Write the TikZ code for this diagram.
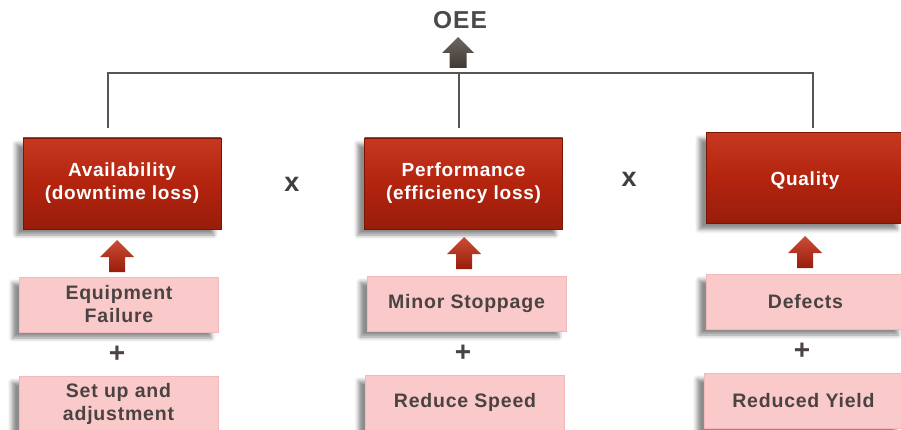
\documentclass[tikz,border=0pt]{standalone}
\usepackage{fontspec}
\setmainfont{Liberation Sans}[LetterSpace=4]
\usetikzlibrary{shadows.blur}

\definecolor{boxred}{HTML}{B3240F}
\definecolor{boxredtop}{HTML}{C63820}
\definecolor{boxredbot}{HTML}{981D0A}
\definecolor{boxedge}{HTML}{7A1505}
\definecolor{lossfill}{HTML}{FACACB}
\definecolor{lossedge}{HTML}{F3B8B9}
\definecolor{losstext}{HTML}{4B4242}
\definecolor{linegray}{HTML}{555555}
\definecolor{oeegray}{HTML}{4A4A4A}
\definecolor{arrowdark}{HTML}{3F3834}
\definecolor{arrowlight}{HTML}{6E6660}

\tikzset{
  x=1pt, y=-1pt,
  boxshadow/.style={blur shadow={shadow xshift=-7pt, shadow yshift=-6pt,
      shadow blur radius=4pt, shadow opacity=45}},
  factorbox/.style={boxshadow, draw=boxedge, line width=0.6pt,
      top color=boxredtop, bottom color=boxredbot, middle color=boxred,
      minimum width=198pt, minimum height=91pt, inner sep=0pt,
      text=white, align=center, font=\bfseries\fontsize{19}{23}\selectfont},
  lossbox/.style={boxshadow, draw=lossedge, line width=0.6pt, fill=lossfill,
      minimum width=199pt, minimum height=55pt, inner sep=0pt,
      text=losstext, align=center, font=\bfseries\fontsize{19.5}{23}\selectfont},
  bracket/.style={draw=linegray, line width=2pt},
  opsign/.style={text=oeegray!85!black, font=\bfseries\fontsize{27}{27}\selectfont, inner sep=0pt},
  plussign/.style={text=losstext, font=\bfseries\fontsize{28}{28}\selectfont, inner sep=0pt},
  redup/.pic={
    \shade[top color=boxredtop!90!white, bottom color=boxredbot]
      (0,0) -- (17,17) -- (8,17) -- (8,32) -- (-8,32) -- (-8,17) -- (-17,17) -- cycle;
  },
  grayup/.pic={
    \shade[top color=arrowlight, bottom color=arrowdark]
      (0,0) -- (16,16) -- (8.5,16) -- (8.5,31) -- (-8.5,31) -- (-8.5,16) -- (-16,16) -- cycle;
  }
}

\begin{document}
\begin{tikzpicture}
\clip (0,0) rectangle (901,430);

% result
\node[text=oeegray, font=\bfseries\fontsize{24.5}{24.5}\selectfont, inner sep=0pt] (oee) at (460,20) {OEE};
\pic at (458,37) {grayup};

% the three factors
\node[factorbox] (av) at (122,183.5) {Availability\\(downtime loss)};
\node[factorbox] (pf) at (463.5,183.5) {Performance\\(efficiency loss)};
\node[factorbox, text height=16pt, text depth=0pt] (ql) at (805,178) {Quality};

\node[opsign] (x1) at (292,184) {x};
\node[opsign] (x2) at (629,179) {x};

% bracket joining the factors
\coordinate (bl) at (108,128);
\coordinate (bm) at (459,128);
\coordinate (br) at (813,128);
\coordinate (tl) at (108,73);
\coordinate (tm) at (459,73);
\coordinate (tr) at (813,73);
\draw[bracket] (bl) -- (tl) -- (tr) -- (br);
\draw[bracket] (tm) -- (bm);

% losses feeding each factor
\node[lossbox] (ef) at (119,304.5) {Equipment\\Failure};
\node[lossbox] (su) at (118.5,403.5) {Set up and\\adjustment};
\node[lossbox] (ms) at (466.5,303.5) {Minor Stoppage};
\node[lossbox] (rs) at (465,402.5) {Reduce Speed};
\node[lossbox] (df) at (805.5,301.5) {Defects};
\node[lossbox] (ry) at (803.5,400.5) {Reduced Yield};

\node[plussign] (p1) at (117,354) {+};
\node[plussign] (p2) at (463,353) {+};
\node[plussign] (p3) at (802,351) {+};

\pic at (117,240) {redup};
\pic at (464,237) {redup};
\pic at (805,236) {redup};
\end{tikzpicture}
\end{document}
